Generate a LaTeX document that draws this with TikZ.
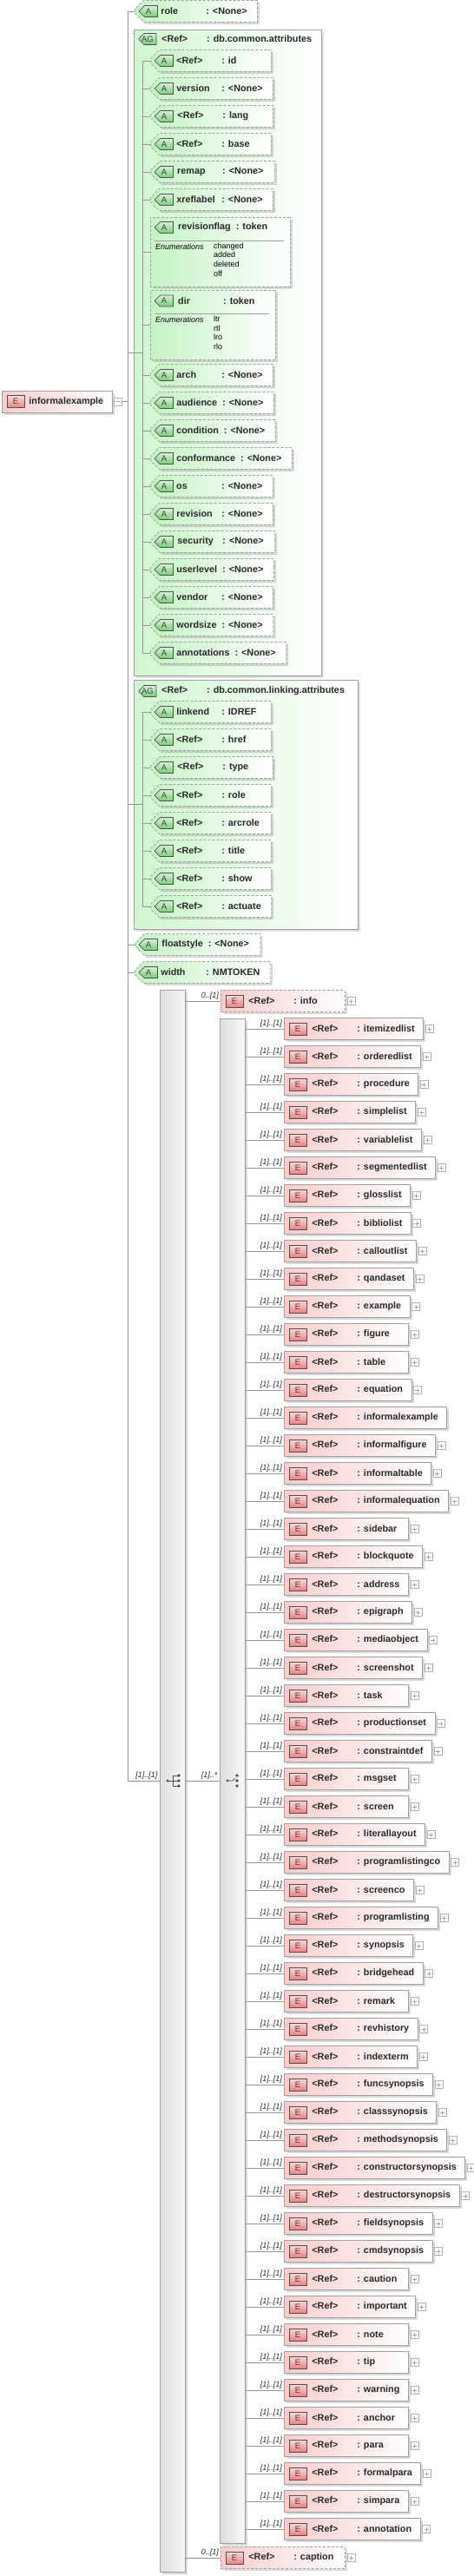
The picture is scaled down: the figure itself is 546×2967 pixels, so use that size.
\documentclass[tikz,border=0pt]{standalone}
\usepackage{fontspec}
\setmainfont{Liberation Sans}
\usepackage{tikz}
\usetikzlibrary{shapes.misc,shadows}

\definecolor{attrfill}{RGB}{196,243,196}
\definecolor{agfill}{RGB}{208,246,208}
\definecolor{elemfill}{RGB}{250,204,204}
\definecolor{boxline}{RGB}{160,160,160}
\definecolor{tagline}{RGB}{80,80,80}
\definecolor{tagA}{RGB}{120,205,120}
\definecolor{tagE}{RGB}{236,128,128}
\definecolor{wiregray}{RGB}{150,150,150}
\definecolor{ink}{RGB}{40,40,40}

\newcommand{\padto}[2]{\setbox0\hbox{#2}\ifdim\wd0<#1\relax\wd0=#1\fi\box0}
\newcommand{\boxfont}{\fontsize{10.8}{13}\selectfont\bfseries}
\newcommand{\tagfont}{\fontsize{9.5}{10}\selectfont}
\newcommand{\multfont}{\fontsize{9}{10}\selectfont\itshape}
\newcommand{\enumfont}{\fontsize{9}{10.6}\selectfont}
\newcommand{\attrtext}[2]{\hspace*{26pt}\padto{52pt}{#1\hspace{6pt}}\padto{45pt}{: #2}\hspace*{8pt}}
\newcommand{\elemtext}[1]{\hspace*{32pt}\makebox[52pt][l]{<Ref>}\padto{49pt}{: #1}\hspace*{10pt}}

\tikzset{
  wire/.style={draw=wiregray, line width=0.8pt},
  shade box/.style={drop shadow={shadow xshift=2.5pt, shadow yshift=-2.5pt, fill=black, opacity=0.15}},
  attrbox/.style={chamfered rectangle, chamfered rectangle corners={north west,south west},
    chamfered rectangle sep=6pt, draw=boxline, dash pattern=on 3pt off 2pt, line width=0.8pt,
    left color=attrfill, right color=white, inner sep=0pt, minimum height=25,
    anchor=west, font=\boxfont, text=ink, shade box},
  agbox/.style={chamfered rectangle, chamfered rectangle corners={north west,south west},
    chamfered rectangle sep=10pt, draw=boxline, line width=0.8pt,
    left color=agfill, right color=white, inner sep=0pt, shade box},
  elembox/.style={rectangle, draw=boxline, line width=0.8pt, left color=elemfill, right color=white,
    inner sep=0pt, minimum height=25, anchor=west, font=\boxfont, text=ink, shade box},
  atag/.style={chamfered rectangle, chamfered rectangle corners={north west,south west},
    chamfered rectangle sep=3pt, draw=tagline, line width=0.7pt, top color=tagA!30!white,
    bottom color=tagA, minimum width=21, minimum height=13, inner sep=0pt, font=\tagfont, text=black!75},
  etag/.style={rectangle, draw=tagline, line width=0.7pt, top color=tagE!30!white, bottom color=tagE,
    minimum width=20, minimum height=14, inner sep=0pt, font=\tagfont, text=black!75},
  atext/.style={anchor=west, inner sep=0pt, font=\boxfont, text=ink},
  mult/.style={anchor=south east, inner sep=0pt, font=\multfont, text=ink},
  enum/.style={inner sep=0pt, font=\enumfont, text=black, align=left},
  bar/.style={rectangle, draw=boxline, line width=0.8pt, left color=black!13, right color=black!3,
    minimum width=29, inner sep=0pt, shade box},
  plusbox/.style={rectangle, draw=black!30, fill=white, minimum size=9, inner sep=0pt, line width=0.6pt,
    path picture={\draw[black!35, line width=0.6pt]
      ([xshift=-2.5pt]path picture bounding box.center) -- ([xshift=2.5pt]path picture bounding box.center)
      ([yshift=-2.5pt]path picture bounding box.center) -- ([yshift=2.5pt]path picture bounding box.center);}},
  minusbox/.style={plusbox, path picture={\draw[black!35, line width=0.6pt]
      ([xshift=-2.5pt]path picture bounding box.center) -- ([xshift=2.5pt]path picture bounding box.center);}},
}

\begin{document}
\begin{tikzpicture}[x=1pt, y=-1pt]
\path[fill=white, use as bounding box] (0,0) rectangle (546,2967);
\coordinate (trunkx) at (147,0);
\coordinate (rail) at (164,0);

% attribute groups first, the wires run over them
\node[agbox, minimum width=216, minimum height=744] (ag1) at (262,406) {};
\node[agbox, minimum width=258, minimum height=287] (ag2) at (283,926.5) {};
\node[atag, minimum width=20] (ag1-tag) at (170,45) {AG};
\node[atext] (ag1-title) at (186,45) {\makebox[52pt][l]{<Ref>}: db.common.attributes};
\node[atag, minimum width=20] (ag2-tag) at (170,796) {AG};
\node[atext] (ag2-title) at (186,796) {\makebox[52pt][l]{<Ref>}: db.common.linking.attributes};

% compositors
\node[bar, minimum height=1822] (seq) at (198.5,2051) {};
\node[bar, minimum height=1756] (choice) at (267.5,2051) {};
\begin{scope}[shift={(seq.center)}]
  \draw[tagline, line width=0.8pt] (-5.5,0) -- (0.5,0) (0.5,-6) -- (0.5,6)
    (0.5,-6) -- (7.5,-6) (0.5,0) -- (7.5,0) (0.5,6) -- (7.5,6);
  \fill[tagline] (-5.5,0) circle (1.7pt) (7.5,-6) circle (1.9pt) (7.5,0) circle (1.9pt) (7.5,6) circle (1.9pt);
\end{scope}
\begin{scope}[shift={(choice.center)}]
  \draw[tagline, line width=0.8pt] (-5.5,0) -- (1,0) -- (3.5,-3);
  \fill[tagline] (-5.5,0) circle (1.7pt) (5.5,-6) circle (1.9pt) (5.5,0) circle (1.9pt) (5.5,6) circle (1.9pt);
\end{scope}

% root
\node[elembox] (root) at (2,462.5) {\hspace*{31pt}informalexample\hspace*{10pt}};
\node[etag] (root-tag) at ([xshift=16pt]root.west) {E};
\node[minusbox] (root-minus) at ([xshift=6.5pt]root.east) {};
\draw[wire] (root-minus.east) -- (root-minus.east -| trunkx);

% top level attributes
\node[attrbox] (role) at (155,13) {\attrtext{role}{<None>}};
\node[atag] (role-tag) at ([xshift=16pt]role.west) {A};
\node[attrbox] (floatstyle) at (155,1088) {\attrtext{floatstyle}{<None>}};
\node[atag] (floatstyle-tag) at ([xshift=16pt]floatstyle.west) {A};
\node[attrbox] (width) at (155,1120) {\attrtext{width}{NMTOKEN}};
\node[atag] (width-tag) at ([xshift=16pt]width.west) {A};

\draw[wire] (role.west) -- (role.west -| trunkx) |- (seq.west);
\node[mult] (seq-mult) at ([xshift=-2pt,yshift=1pt]seq.west) {[1]..[1]};
\draw[wire] (ag1.west -| trunkx) -- (ag1.west -| rail);
\draw[wire] (ag2.west -| trunkx) -- (ag2.west -| rail);
\draw[wire] (floatstyle.west -| trunkx) -- (floatstyle.west);
\draw[wire] (width.west -| trunkx) -- (width.west);

% db.common.attributes
\foreach \nm/\ty/\yy [count=\i] in {<Ref>/id/70, version/<None>/102, <Ref>/lang/134, <Ref>/base/166,
    remap/<None>/198, xreflabel/<None>/230, arch/<None>/432, audience/<None>/464,
    condition/<None>/496, conformance/<None>/528, os/<None>/560, revision/<None>/592,
    security/<None>/624, userlevel/<None>/656, vendor/<None>/688, wordsize/<None>/720,
    annotations/<None>/752}{
  \node[attrbox] (a\i) at (173,\yy) {\attrtext{\nm}{\ty}};
  \node[atag] (a\i-tag) at ([xshift=16pt]a\i.west) {A};
  \draw[wire] (a\i.west -| rail) -- (a\i.west);
}
\node[attrbox, minimum width=161, minimum height=80] (arevflag) at (173,290) {};
\node[atag] (arevflag-tag) at ([xshift=16pt,yshift=28pt]arevflag.west) {A};
\node[atext] (arevflag-name) at ([xshift=32pt,yshift=28pt]arevflag.west) {\padto{52pt}{revisionflag\hspace{6pt}}: token};
\draw[boxline, line width=0.7pt] ([xshift=5pt,yshift=13pt]arevflag.west) -- ([xshift=-8pt,yshift=13pt]arevflag.east);
\node[enum, anchor=west, font=\enumfont\itshape] (arevflag-enum) at ([xshift=6pt,yshift=6pt]arevflag.west) {Enumerations};
\node[enum, anchor=north west] (arevflag-vals) at ([xshift=73pt,yshift=10.5pt]arevflag.west) {changed\\added\\deleted\\off};
\node[attrbox, minimum width=144, minimum height=80] (adir) at (173,374.5) {};
\node[atag] (adir-tag) at ([xshift=16pt,yshift=28pt]adir.west) {A};
\node[atext] (adir-name) at ([xshift=32pt,yshift=28pt]adir.west) {\padto{52pt}{dir\hspace{6pt}}: token};
\draw[boxline, line width=0.7pt] ([xshift=5pt,yshift=13pt]adir.west) -- ([xshift=-8pt,yshift=13pt]adir.east);
\node[enum, anchor=west, font=\enumfont\itshape] (adir-enum) at ([xshift=6pt,yshift=6pt]adir.west) {Enumerations};
\node[enum, anchor=north west] (adir-vals) at ([xshift=73pt,yshift=10.5pt]adir.west) {ltr\\rtl\\lro\\rlo};
\draw[wire] (a1.west -| rail) -- (a17.west -| rail);
\draw[wire] (arevflag.west -| rail) -- (arevflag.west);
\draw[wire] (adir.west -| rail) -- (adir.west);

% db.common.linking.attributes
\foreach \nm/\ty/\yy [count=\i] in {linkend/IDREF/820, <Ref>/href/852, <Ref>/type/884, <Ref>/role/916,
    <Ref>/arcrole/948, <Ref>/title/980, <Ref>/show/1012, <Ref>/actuate/1044}{
  \node[attrbox] (l\i) at (173,\yy) {\attrtext{\nm}{\ty}};
  \node[atag] (l\i-tag) at ([xshift=16pt]l\i.west) {A};
  \draw[wire] (l\i.west -| rail) -- (l\i.west);
}
\draw[wire] (l1.west -| rail) -- (l8.west -| rail);

% sequence
\node[elembox, dash pattern=on 3pt off 2pt] (info) at (254,1153) {\elemtext{info}};
\node[etag] (info-tag) at ([xshift=16pt]info.west) {E};
\node[plusbox] (info-plus) at ([xshift=6.5pt]info.east) {};
\draw[wire] (info.west -| seq.east) -- (info.west);
\node[mult] (info-mult) at ([xshift=-2pt,yshift=1pt]info.west) {0..[1]};

\draw[wire] (seq.east) -- (choice.west);
\node[mult] (choice-mult) at ([xshift=-2pt,yshift=1pt]choice.west) {[1]..*};

\node[elembox, dash pattern=on 3pt off 2pt] (caption) at (254,2946) {\elemtext{caption}};
\node[etag] (caption-tag) at ([xshift=16pt]caption.west) {E};
\node[plusbox] (caption-plus) at ([xshift=6.5pt]caption.east) {};
\draw[wire] (caption.west -| seq.east) -- (caption.west);
\node[mult] (caption-mult) at ([xshift=-2pt,yshift=1pt]caption.west) {0..[1]};

% choice
\foreach \nm [count=\i] in {itemizedlist, orderedlist, procedure, simplelist, variablelist,
    segmentedlist, glosslist, bibliolist, calloutlist, qandaset, example, figure, table, equation,
    informalexample, informalfigure, informaltable, informalequation, sidebar, blockquote, address,
    epigraph, mediaobject, screenshot, task, productionset, constraintdef, msgset, screen,
    literallayout, programlistingco, screenco, programlisting, synopsis, bridgehead, remark,
    revhistory, indexterm, funcsynopsis, classsynopsis, methodsynopsis, constructorsynopsis,
    destructorsynopsis, fieldsynopsis, cmdsynopsis, caution, important, note, tip, warning,
    anchor, para, formalpara, simpara, annotation}{
  \node[elembox] (e\i) at (327,{1153+32*\i}) {\elemtext{\nm}};
  \node[etag] (e\i-tag) at ([xshift=16pt]e\i.west) {E};
  \draw[wire] (e\i.west -| choice.east) -- (e\i.west);
  \node[mult] (e\i-mult) at ([xshift=-2pt,yshift=1pt]e\i.west) {[1]..[1]};
  \ifnum\i=15 \else \node[plusbox] (e\i-plus) at ([xshift=6.5pt]e\i.east) {}; \fi
}
\end{tikzpicture}
\end{document}
